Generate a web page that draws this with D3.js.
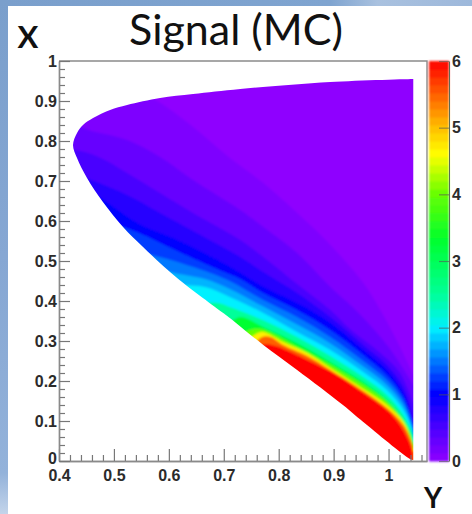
<!DOCTYPE html>
<html>
<head>
<meta charset="utf-8">
<style>
  html, body { margin: 0; padding: 0; background: #fff; }
  svg { display: block; }
  text { font-family: "Liberation Sans", Arial, sans-serif; }
  .axis text { font-weight: bold; font-size: 16px; fill: #2b2b2b; }
  .axis path { stroke: #8a8a8a; stroke-width: 1.4px; }
  .axis line { stroke: #777; stroke-width: 1.2px; }
</style>
<script src="https://cdn.jsdelivr.net/npm/d3@7"></script>
</head>
<body>
<div id="chart"></div>
<script>
var title = "Signal (MC)",
    xLabel = "X",
    yLabel = "Y";

var yTicks = [0.4, 0.5, 0.6, 0.7, 0.8, 0.9, 1],
    xTicks = [0, 0.1, 0.2, 0.3, 0.4, 0.5, 0.6, 0.7, 0.8, 0.9, 1],
    zTicks = [0, 1, 2, 3, 4, 5, 6];

// colour stops
var zStops = [0, 0.5, 1, 1.5, 2, 2.5, 3.3, 4, 4.6, 5, 5.5, 6],
    zColors = ["#8f00ff", "#4a00ff", "#0000ff", "#0078ff", "#00f0ff", "#00ff9a", "#00ff30",
               "#66ff00", "#ffff00", "#ffc000", "#ff6000", "#ff0000"];

// edge of the filled region, [Y, X], from the top right round to the tip
var outline = [[1.045,0.955],[0.894,0.9475],[0.73,0.93],[0.644,0.9175],[0.584,0.9075],[0.524,0.89],
  [0.493,0.8775],[0.462,0.8575],[0.4437,0.84],[0.4328,0.82],[0.4255,0.79],[0.4328,0.7575],[0.451,0.7075],[0.48,0.6475],
  [0.5166,0.585],[0.553,0.535],[0.615,0.4575],[0.699,0.37],[0.711,0.3575],[0.772,0.29],[0.8335,0.2275],
  [0.917,0.14],[0.954,0.0975],[1.039,0.005],[1.045,0.002]];

// contour lines, [Y, X], each starts just outside the region
var levels = [0.12, 0.3, 0.5, 0.75, 1, 1.25, 1.5, 1.75, 2, 2.5, 3.3, 4, 4.7, 5.5, 6];

var c012 = [[0.4,1],[0.566,0.91],[0.644,0.835],[0.711,0.7575],[0.772,0.695],[0.8335,0.62],[0.894,0.54],[0.954,0.445],[0.985,0.3775],[1.019,0.29],[1.045,0.215]];
var c030 = [[0.4,0.87],[0.444,0.8325],[0.524,0.8025],[0.584,0.76],[0.644,0.7025],[0.73,0.6275],[0.772,0.585],[0.8335,0.52],[0.894,0.435],[0.94,0.3775],[1,0.285],[1.045,0.19]];
var c050 = [[0.4,0.78],[0.44,0.775],[0.48,0.755],[0.524,0.72],[0.584,0.67],[0.644,0.62],[0.73,0.5525],[0.772,0.51],[0.8335,0.4425],[0.894,0.3775],[0.93,0.33],[0.985,0.27],[1.021,0.22],[1.045,0.145]];
var c075 = [[0.43,0.72],[0.451,0.7075],[0.524,0.665],[0.584,0.62],[0.644,0.575],[0.73,0.51],[0.772,0.4725],[0.8335,0.42],[0.894,0.36],[0.954,0.29],[0.997,0.24],[1.027,0.185],[1.043,0.12],[1.045,0.1]];
var c100 = [[0.44,0.68],[0.4747,0.6575],[0.542,0.595],[0.615,0.5525],[0.688,0.5025],[0.73,0.47],[0.772,0.435],[0.8335,0.395],[0.894,0.345],[0.954,0.2775],[0.997,0.2275],[1.027,0.17],[1.043,0.1025],[1.045,0.08]];
var c125 = [[0.505,0.59],[0.542,0.5725],[0.615,0.525],[0.688,0.48],[0.73,0.455],[0.772,0.42],[0.8335,0.3775],[0.894,0.3275],[0.954,0.265],[0.997,0.215],[1.027,0.16],[1.043,0.096],[1.045,0.075]];
var c150 = [[0.55,0.52],[0.584,0.51],[0.666,0.475],[0.711,0.45],[0.772,0.4025],[0.8335,0.36],[0.894,0.31],[0.954,0.25],[0.997,0.2025],[1.027,0.15],[1.043,0.09],[1.045,0.07]];
var c175 = [[0.585,0.48],[0.61,0.47],[0.666,0.455],[0.711,0.43],[0.772,0.386],[0.8335,0.341],[0.894,0.294],[0.954,0.236],[0.997,0.19],[1.027,0.139],[1.043,0.084],[1.045,0.065]];
var c200 = [[0.62,0.44],[0.666,0.435],[0.711,0.41],[0.772,0.37],[0.8335,0.3225],[0.894,0.2775],[0.954,0.2225],[0.997,0.1775],[1.027,0.1275],[1.043,0.0775],[1.045,0.06]];
var c250 = [[0.66,0.395],[0.69,0.395],[0.711,0.385],[0.772,0.352],[0.8335,0.31],[0.894,0.2625],[0.954,0.21],[0.997,0.165],[1.027,0.115],[1.043,0.07],[1.045,0.05]];
var c330 = [[0.71,0.345],[0.73,0.36],[0.772,0.335],[0.8335,0.295],[0.894,0.2475],[0.954,0.1975],[0.997,0.1525],[1.027,0.1025],[1.043,0.06],[1.045,0.045]];
var c400 = [[0.735,0.32],[0.755,0.33],[0.772,0.328],[0.8335,0.285],[0.894,0.24],[0.954,0.19],[0.997,0.1475],[1.027,0.1],[1.043,0.055],[1.045,0.04]];
var c470 = [[0.75,0.31],[0.762,0.32],[0.772,0.3225],[0.808,0.2975],[0.852,0.27],[0.894,0.2325],[0.954,0.18],[0.997,0.14],[1.027,0.0975],[1.039,0.06],[1.045,0.03]];
var c550 = [[0.758,0.295],[0.77,0.31],[0.785,0.31],[0.808,0.29],[0.852,0.2625],[0.894,0.2275],[0.954,0.175],[0.997,0.1325],[1.027,0.09],[1.043,0.0425],[1.045,0.025]];
var c600 = [[0.768,0.29],[0.775,0.2925],[0.795,0.2875],[0.852,0.2525],[0.905,0.215],[0.954,0.17],[0.997,0.1275],[1.021,0.09],[1.041,0.035],[1.045,0]];

var contours = [c012, c030, c050, c075, c100, c125, c150, c175, c200, c250, c330, c400, c470, c550, c600];

var width = 472, height = 514;
var margin = {top: 61, right: 45, bottom: 53, left: 59},
    frameWidth = 427 - margin.left,
    frameHeight = height - margin.top - margin.bottom;

var svg = d3.select("#chart").append("svg")
    .attr("width", width)
    .attr("height", height);

var defs = svg.append("defs");

// slide background showing along the top and left
var sideGrad = defs.append("linearGradient").attr("id", "sideGrad")
    .attr("x1", 0).attr("y1", 0).attr("x2", 0).attr("y2", 1);
sideGrad.selectAll("stop")
    .data([[0, "#7a9fcc"], [0.5, "#86a7d3"], [0.92, "#93b2da"], [1, "#c3d4ea"]])
    .enter().append("stop")
    .attr("offset", d => d[0])
    .attr("stop-color", d => d[1]);

var topGrad = defs.append("linearGradient").attr("id", "topGrad");
topGrad.selectAll("stop")
    .data([[0, "#7a9fcc"], [0.7, "#7fa4d0"], [0.8, "#a9c1df"], [1, "#9db8db"]])
    .enter().append("stop")
    .attr("offset", d => d[0])
    .attr("stop-color", d => d[1]);

svg.append("rect").attr("width", 8).attr("height", height).attr("fill", "url(#sideGrad)");
svg.append("rect").attr("width", width).attr("height", 6).attr("fill", "url(#topGrad)");

defs.append("filter").attr("id", "soft")
    .attr("filterUnits", "userSpaceOnUse")
    .attr("x", 0).attr("y", 0).attr("width", width).attr("height", height)
  .append("feGaussianBlur").attr("stdDeviation", 1.3);

var yScale = d3.scaleLinear().domain([0.4, 1.07]).range([margin.left, margin.left + frameWidth]),
    xScale = d3.scaleLinear().domain([0, 1]).range([margin.top + frameHeight, margin.top]),
    zScale = d3.scaleLinear().domain([0, 6]).range([margin.top + frameHeight, margin.top]),
    color = d3.scaleLinear().domain(zStops).range(zColors);

var line = d3.line()
    .x(d => yScale(d[0]))
    .y(d => xScale(d[1]))
    .curve(d3.curveCatmullRom.alpha(0.5));

var outlinePath = line(outline) + "Z";

defs.append("clipPath").attr("id", "region")
  .append("path").attr("d", outlinePath);

var plot = svg.append("g").attr("clip-path", "url(#region)");
var bands = plot.append("g").attr("filter", "url(#soft)");

bands.append("rect")
    .attr("x", margin.left).attr("y", margin.top)
    .attr("width", frameWidth).attr("height", frameHeight)
    .attr("fill", color(0));

// each band fills everything below its contour, low levels first
bands.selectAll(".band")
  .data(contours)
  .enter().append("path")
    .attr("class", "band")
    .attr("d", function(c) {
      var closing = [[1.07, c[c.length - 1][1]], [1.07, 0], [0.4, 0]];
      var path = line(c);
      closing.forEach(function(p) {
        path += "L" + yScale(p[0]) + "," + xScale(p[1]);
      });
      return path + "Z";
    })
    .attr("fill", (c, i) => color(levels[i]));

// frame
svg.append("path")
    .attr("d", d3.line()([[margin.left, margin.top], [margin.left + frameWidth, margin.top],
                          [margin.left + frameWidth, margin.top + frameHeight]]))
    .attr("fill", "none")
    .attr("stroke", "#8a8a8a")
    .attr("stroke-width", 1.4);

// axes, ticks point into the frame
var yMinor = d3.range(0.42, 1.07, 0.02).filter(d => Math.round(d * 100) % 10 != 0),
    xMinor = d3.range(0.02, 1, 0.02).filter(d => Math.round(d * 100) % 10 != 0);

var bottomAxis = svg.append("g").attr("class", "axis")
    .attr("transform", `translate(0,${margin.top + frameHeight})`);
bottomAxis.call(d3.axisBottom(yScale).tickValues(yMinor).tickSize(-6).tickSizeOuter(0).tickFormat(""));
bottomAxis.append("g").call(d3.axisBottom(yScale).tickValues(yTicks).tickSize(-12).tickSizeOuter(0).tickPadding(9).tickFormat(d3.format("")));

var leftAxis = svg.append("g").attr("class", "axis")
    .attr("transform", `translate(${margin.left},0)`);
leftAxis.call(d3.axisLeft(xScale).tickValues(xMinor).tickSize(-6).tickSizeOuter(0).tickFormat(""));
leftAxis.append("g").call(d3.axisLeft(xScale).tickValues(xTicks).tickSize(-11).tickSizeOuter(0).tickPadding(2).tickFormat(d3.format("")));

// the 0 sits just above the 0.4 of the other axis
leftAxis.selectAll(".tick text").filter(d => d === 0).attr("y", -3);

// colour bar
var barLeft = 429, barRight = 449;
var barBins = d3.range(0, 6, 0.12);

svg.append("g").attr("filter", "url(#soft)").selectAll("rect")
  .data(barBins)
  .enter().append("rect")
    .attr("x", barLeft)
    .attr("width", barRight - barLeft)
    .attr("y", d => zScale(d + 0.12))
    .attr("height", d => zScale(d) - zScale(d + 0.12) + 0.5)
    .attr("fill", d => color(d + 0.06));

var barAxis = svg.append("g").attr("class", "axis")
    .attr("transform", `translate(${barRight},0)`)
    .call(d3.axisRight(zScale).tickValues(zTicks).tickSize(-10).tickSizeOuter(0).tickPadding(3).tickFormat(d3.format("d")));
barAxis.select(".domain").style("stroke", "#5a6a55").style("stroke-width", "1px");
barAxis.selectAll("line").style("stroke", "#555").style("stroke-opacity", 0.6);

// title and axis letters
svg.append("text")
    .attr("x", 236).attr("y", 45)
    .attr("text-anchor", "middle")
    .style("font-family", "Lato")
    .style("font-size", "43px")
    .style("fill", "#111")
    .text(title);

svg.append("text")
    .attr("x", 28).attr("y", 48)
    .attr("text-anchor", "middle")
    .style("font-family", "Lato")
    .style("font-weight", "bold")
    .style("font-size", "31px")
    .style("fill", "#111")
    .text(xLabel);

svg.append("text")
    .attr("x", 433).attr("y", 508)
    .attr("text-anchor", "middle")
    .style("font-family", "Lato")
    .style("font-weight", "bold")
    .style("font-size", "28px")
    .style("fill", "#111")
    .text(yLabel);
</script>
</body>
</html>
